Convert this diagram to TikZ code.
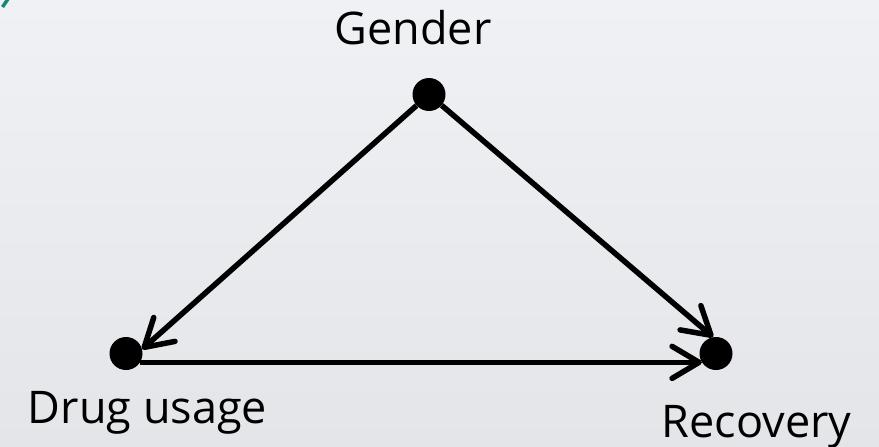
\documentclass[tikz,border=0pt]{standalone}
\usepackage{fontspec}
\setmainfont{Open Sans}
\usetikzlibrary{arrows.meta}
\definecolor{bgtop}{HTML}{EFF1F5}
\definecolor{bgbot}{HTML}{E3E5E8}
\definecolor{tealmark}{HTML}{18857B}
\begin{document}
\begin{tikzpicture}[x=1pt,y=-1pt,
  dot/.style={circle,fill=black,inner sep=0pt,minimum size=33pt},
  lab/.style={font=\fontsize{45}{54}\selectfont,inner sep=0pt,anchor=base},
  arr/.style={line width=5.5pt,-{Straight Barb[length=27pt,width=32pt,line width=5.5pt,round]}}]
\shade[top color=bgtop,bottom color=bgbot] (0,0) rectangle (879,447);
\useasboundingbox (0,0) rectangle (879,447);
\draw[tealmark,line width=3.5pt] (2.5,7) -- (8,-1);
\node[dot] (g) at (429,94.5) {};
\node[dot] (d) at (126,353.5) {};
\node[dot] (r) at (716,353.5) {};
\node[lab] (gl) at (413,45) {Gender};
\node[lab] (dl) at (147.5,423) {Drug usage};
\node[lab] (rl) at (756.5,437) {Recovery};
\draw[arr] (g) -- (d.15);
\draw[arr] (g) -- (r.100);
\draw[arr] (d.-32) -- (r.212);
\end{tikzpicture}
\end{document}
